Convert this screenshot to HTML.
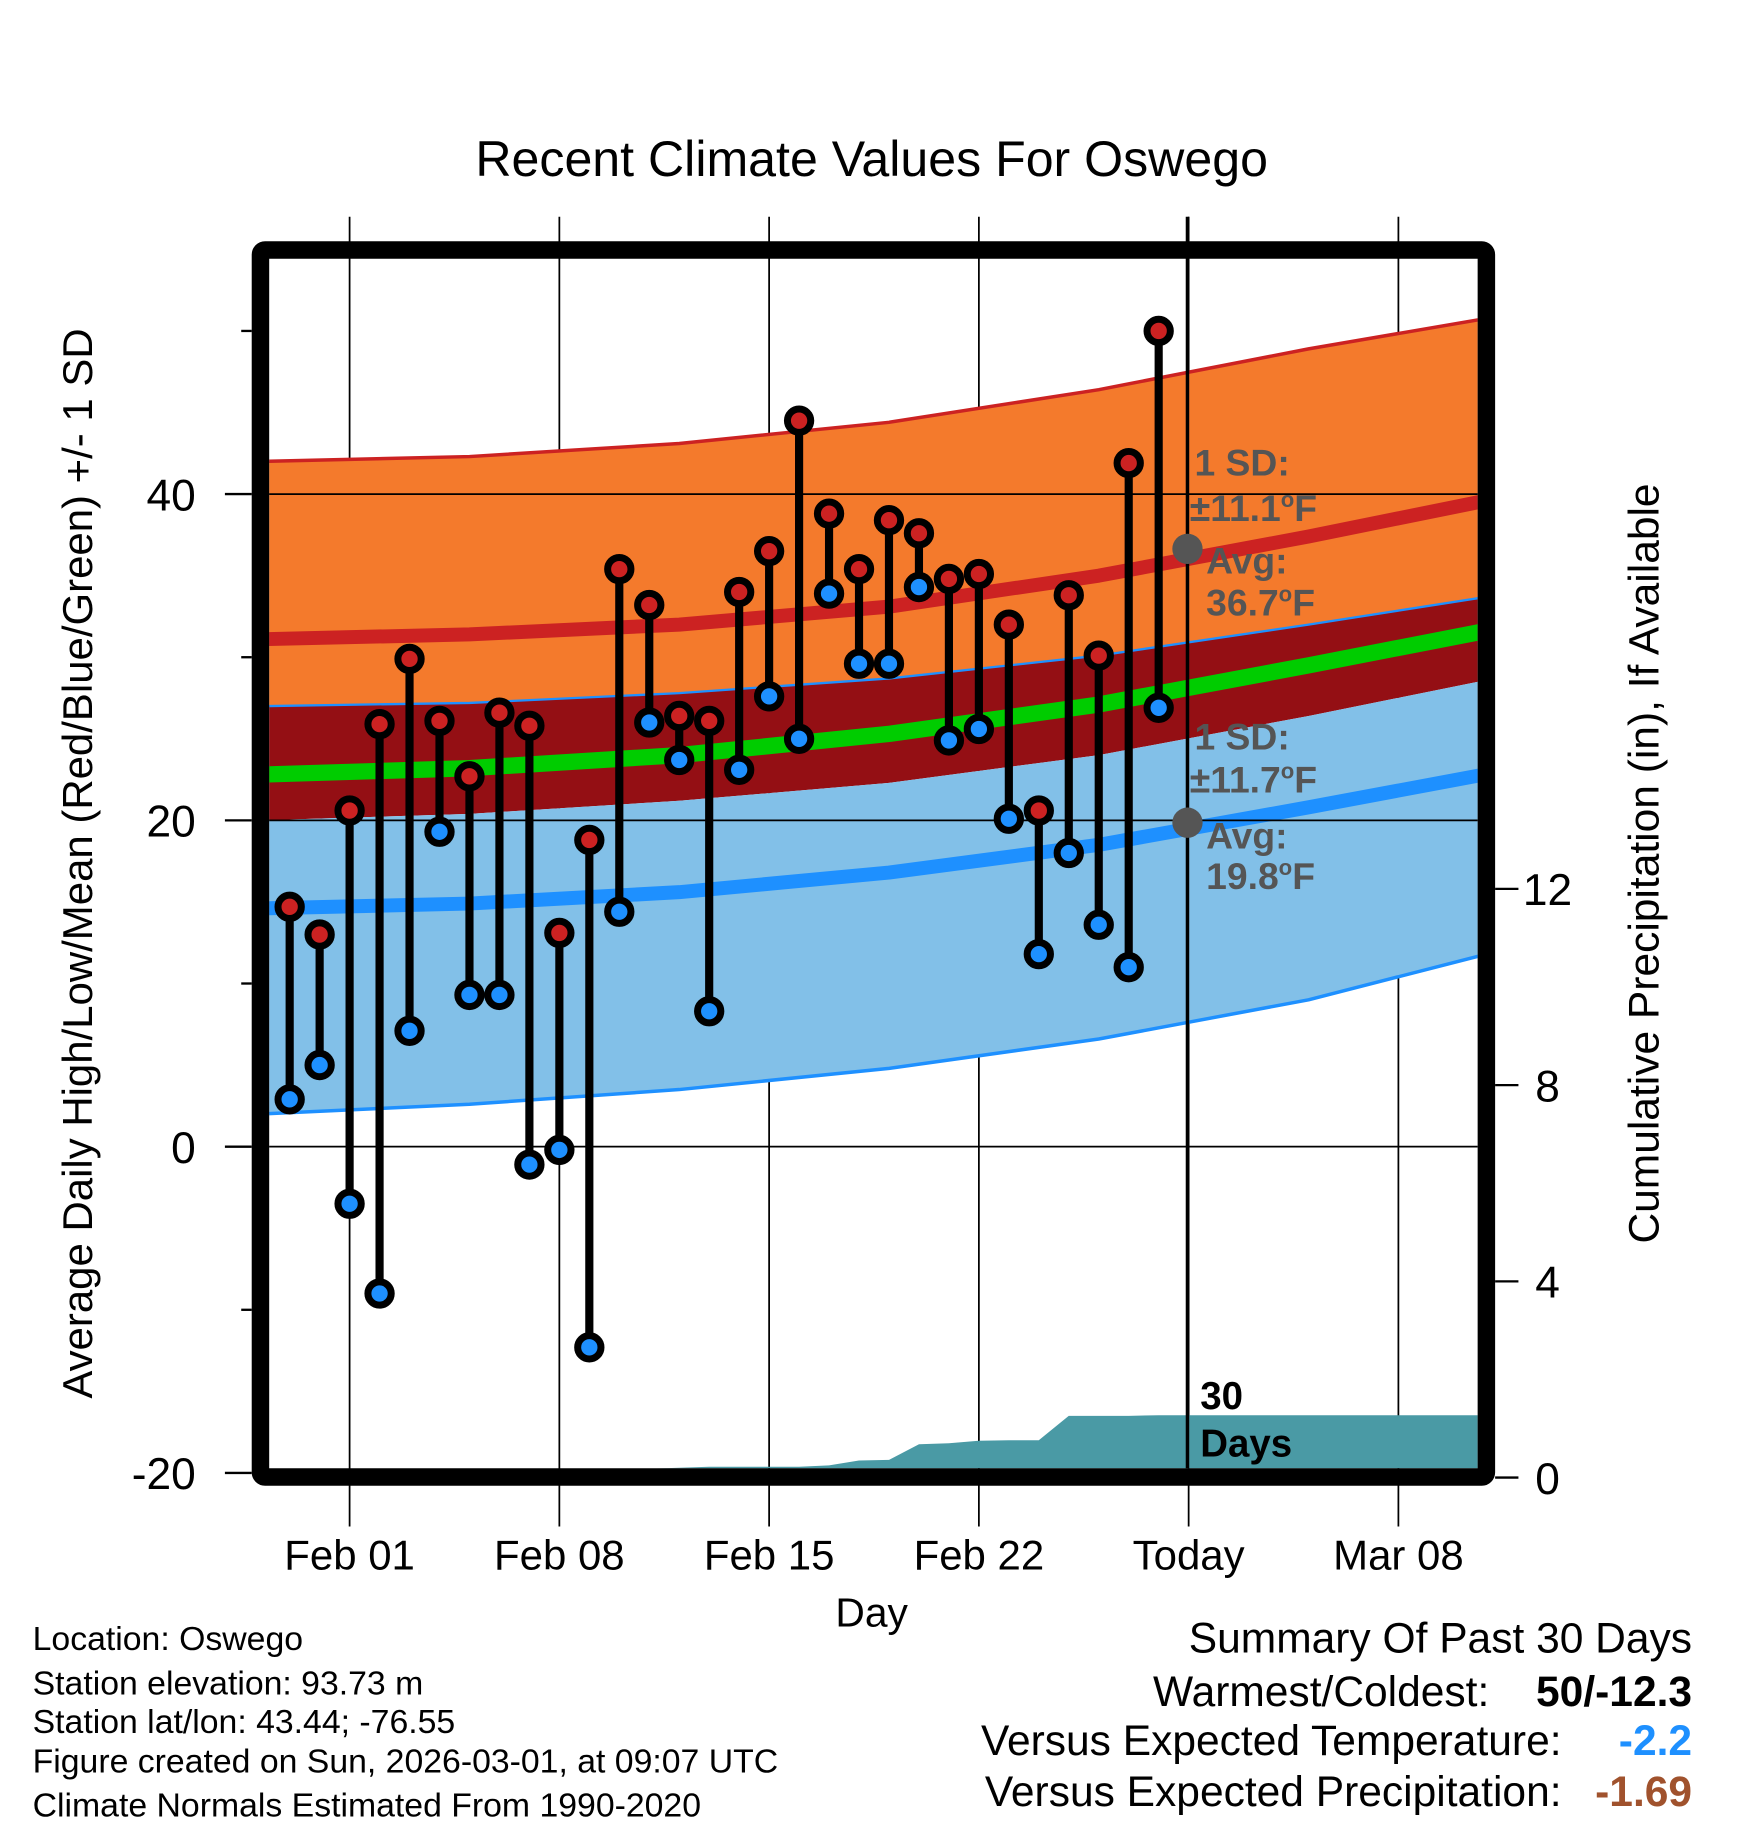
<!DOCTYPE html>
<html><head><meta charset="utf-8"><style>
html,body{margin:0;padding:0;background:#fff}
svg{display:block}
text{font-family:"Liberation Sans",Arial,sans-serif}
</style></head><body>
<svg id="chart" width="1748" height="1828" viewBox="0 0 1500 1568.7" preserveAspectRatio="none" xmlns="http://www.w3.org/2000/svg">
<defs><clipPath id="plotclip"><rect x="231" y="222" width="1037" height="1038"/></clipPath></defs>
<text x="748" y="151" font-size="43" text-anchor="middle">Recent Climate Values For Oswego</text>
<g id="grid"></g>
<g id="bands" clip-path="url(#plotclip)"></g>
<g id="precip" clip-path="url(#plotclip)"></g>
<g id="hgrid"></g>
<line x1="1019" y1="186" x2="1019" y2="1260" stroke="#000" stroke-width="3"/>
<g id="marks"></g>
<g font-weight="bold" font-size="32" fill="#555">
<circle cx="1019" cy="471" r="13" fill="#555"/>
<circle cx="1019" cy="706" r="13" fill="#555"/>
<text x="1025" y="408">1 SD:</text>
<text x="1021" y="447">±11.1<tspan dy="-12" font-size="19">o</tspan><tspan dy="12">F</tspan></text>
<text x="1035" y="492">Avg:</text>
<text x="1035" y="528">36.7<tspan dy="-12" font-size="19">o</tspan><tspan dy="12">F</tspan></text>
<text x="1025" y="643">1 SD:</text>
<text x="1021" y="680">±11.7<tspan dy="-12" font-size="19">o</tspan><tspan dy="12">F</tspan></text>
<text x="1035" y="728">Avg:</text>
<text x="1035" y="763">19.8<tspan dy="-12" font-size="19">o</tspan><tspan dy="12">F</tspan></text>
</g>
<text x="1030" y="1209" font-size="33" font-weight="bold">30</text>
<text x="1030" y="1250" font-size="33" font-weight="bold">Days</text>
<rect x="223.5" y="214.5" width="1052" height="1053" fill="none" stroke="#000" stroke-width="15" rx="4"/>
<g id="axes" font-size="38"></g>
<text x="748" y="1396" font-size="35" text-anchor="middle">Day</text>
<text transform="translate(79,741) rotate(-90)" font-size="36" text-anchor="middle">Average Daily High/Low/Mean (Red/Blue/Green) +/- 1 SD</text>
<text transform="translate(1423,741) rotate(-90)" font-size="36.5" text-anchor="middle">Cumulative Precipitation (in), If Available</text>
<g font-size="29">
<text x="28" y="1416">Location: Oswego</text>
<text x="28" y="1454">Station elevation: 93.73 m</text>
<text x="28" y="1487">Station lat/lon: 43.44; -76.55</text>
<text x="28" y="1521">Figure created on Sun, 2026-03-01, at 09:07 UTC</text>
<text x="28" y="1559">Climate Normals Estimated From 1990-2020</text>
</g>
<g font-size="36.5" text-anchor="end">
<text x="1452" y="1418">Summary Of Past 30 Days</text>
<text x="1278" y="1464">Warmest/Coldest:</text>
<text x="1452" y="1464" font-weight="bold">50/-12.3</text>
<text x="1340" y="1506">Versus Expected Temperature:</text>
<text x="1452" y="1506" font-weight="bold" fill="#1e90ff">-2.2</text>
<text x="1340" y="1550">Versus Expected Precipitation:</text>
<text x="1452" y="1550" font-weight="bold" fill="#a0522d">-1.69</text>
</g>
</svg>
<script>
const days=[-2,-1,0,1,2,3,4,5,6,7,8,9,10,11,12,13,14,15,16,17,18,19,20,21,22,23,24,25,26,27];
const highs=[14.7,13,20.6,25.9,29.9,26.1,22.7,26.6,25.8,13.1,18.8,35.4,33.2,26.4,26.1,34,36.5,44.5,38.8,35.4,38.4,37.6,34.8,35.1,32,20.6,33.8,30.1,41.9,50];
const lows=[2.9,5,-3.5,-9,7.1,19.3,9.3,9.3,-1.1,-0.2,-12.3,14.4,26,23.7,8.3,23.1,27.6,25,33.9,29.6,29.6,34.3,24.9,25.6,20.1,11.8,18,13.6,11,26.9];
const precip=[0,0,0,0,0,0,0,0.03,0.05,0.06,0.06,0.1,0.18,0.2,0.22,0.22,0.22,0.22,0.25,0.35,0.36,0.68,0.7,0.75,0.76,0.76,1.26,1.26,1.26,1.27];
const normDays=[-3,4,11,18,25,32,39];
const hiSDup=[42,42.3,43.1,44.4,46.4,48.9,51.1];
const hiAvg=[31.1,31.4,32.0,33.1,35.0,37.4,40.0];
const hiSDlow=[27.0,27.2,27.8,28.7,30.1,32.0,34.0];
const meanAvg=[22.8,23.2,24.0,25.3,27.1,29.5,32.0];
const loSDup=[20.0,20.4,21.2,22.3,24.0,26.4,29.0];
const loAvg=[14.6,14.9,15.6,16.8,18.5,20.8,23.2];
const loSDlow=[2.0,2.6,3.5,4.8,6.6,9.0,12.3];
const xTickDays=[0,7,14,21,28,35];
const xTickLabels=["Feb 01","Feb 08","Feb 15","Feb 22","Today","Mar 08"];
const yTicks=[-20,0,20,40];
const yMinor=[-10,10,30,50];
const y2Ticks=[0,4,8,12];

const NS="http://www.w3.org/2000/svg";
const X=d=>300+d*180/7;
const Y=v=>984-14*v;
const Y2=p=>1268-42.1*p;
function mk(tag,attrs,parent){const e=document.createElementNS(NS,tag);for(const k in attrs)e.setAttribute(k,attrs[k]);parent.appendChild(e);return e;}
const pts=arr=>normDays.map((d,i)=>X(d).toFixed(1)+","+Y(arr[i]).toFixed(1));
function band(up,low,fill,name){const p=pts(up).concat(pts(low).reverse());const e=mk('polygon',{points:p.join(' '),fill:fill},document.getElementById('bands'));

}
function line(arr,stroke,w,name){const e=mk('polyline',{points:pts(arr).join(' '),fill:'none',stroke:stroke,'stroke-width':w,'stroke-linejoin':'round'},document.getElementById('bands'));

}
band(hiSDup,hiSDlow,'#f47a2c','high-sd-band');
band(hiSDlow,loSDup,'#940f14','overlap-band');
band(loSDup,loSDlow,'#82c0e8','low-sd-band');
line(hiSDup,'#cc2222',3,'high-plus-sd-line');
line(hiSDlow,'#1e90ff',2,'high-minus-sd-line');
line(loSDlow,'#1e90ff',3,'low-minus-sd-line');
line(hiAvg,'#cc2222',12,'avg-high-line');
line(loAvg,'#1e90ff',12,'avg-low-line');
line(meanAvg,'#00cc00',14,'avg-mean-line');

const pp=days.map((d,i)=>X(d).toFixed(1)+","+Y2(precip[i]).toFixed(1));
const last=precip[precip.length-1];
const poly=[X(days[0])+","+Y2(0)].concat(pp,[X(40)+","+Y2(last),X(40)+","+Y2(0)]);
const pa=mk('polygon',{points:poly.join(' '),fill:'#4a9aa5'},document.getElementById('precip'));



const g=document.getElementById('grid');
xTickDays.forEach(d=>{const l=mk('line',{x1:X(d),y1:186,x2:X(d),y2:1310,stroke:'#000','stroke-width':1.5},g);

});
const hg=document.getElementById('hgrid');
yTicks.forEach(v=>{if(v>-20){const l=mk('line',{x1:231,y1:Y(v),x2:1268,y2:Y(v),stroke:'#000','stroke-width':1.5},hg);

}});

const m=document.getElementById('marks');
days.forEach((d,i)=>{
 const s=mk('line',{x1:X(d),y1:Y(highs[i]),x2:X(d),y2:Y(lows[i]),stroke:'#000','stroke-width':7},m);
 
 
 const h=mk('circle',{cx:X(d),cy:Y(highs[i]),r:10,fill:'#cc2222',stroke:'#000','stroke-width':6},m);
 
 
 const lo=mk('circle',{cx:X(d),cy:Y(lows[i]),r:10,fill:'#1e90ff',stroke:'#000','stroke-width':6},m);
 
 
});

const a=document.getElementById('axes');
yTicks.forEach(v=>{const l=mk('line',{x1:193,y1:Y(v),x2:216,y2:Y(v),stroke:'#000','stroke-width':2},a);


const t=mk('text',{x:168,y:Y(v)+14,'text-anchor':'end'},a);t.textContent=v;

});
yMinor.forEach(v=>{const l=mk('line',{x1:207,y1:Y(v),x2:216,y2:Y(v),stroke:'#000','stroke-width':2},a);

});
y2Ticks.forEach(p=>{const l=mk('line',{x1:1283,y1:Y2(p),x2:1303,y2:Y2(p),stroke:'#000','stroke-width':2},a);


const t=mk('text',{x:1328,y:Y2(p)+14,'text-anchor':'middle'},a);t.textContent=p;

});
xTickDays.forEach((d,i)=>{const t=mk('text',{x:X(d),y:1347,'text-anchor':'middle','font-size':36},a);t.textContent=xTickLabels[i];

});
</script>
</body></html>
